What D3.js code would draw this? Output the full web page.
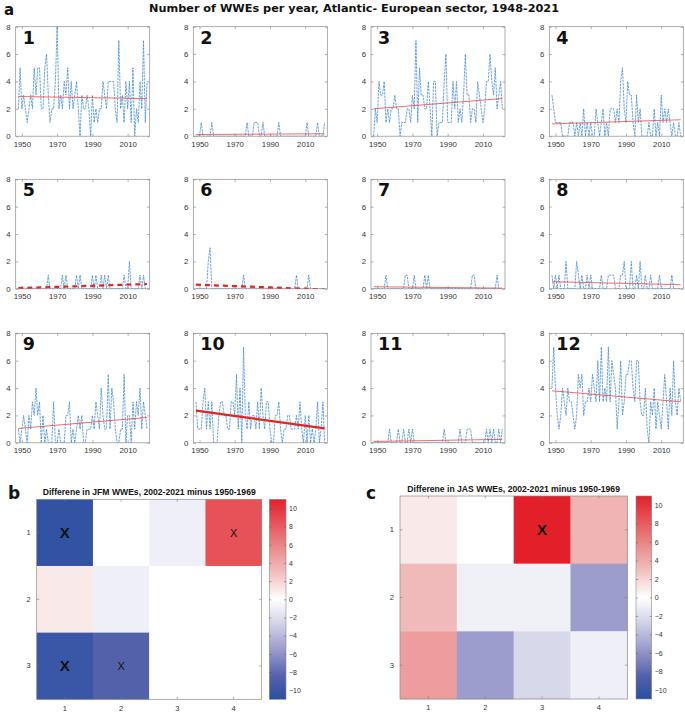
<!DOCTYPE html>
<html><head><meta charset="utf-8">
<script src="https://cdn.jsdelivr.net/npm/d3@7"></script>
<style>body{margin:0;background:#fff}svg{display:block}</style>
</head><body><svg id="c" width="685" height="713"></svg>
<script>
// ---------------- DATA ----------------
const years = d3.range(1948, 2022);
const s1 = [2,5,2,3,2,1,2,3,2,5, 3,5,5,2,2,5,6,3,1,2, 2,4,8,2,3,2,4,3,5,2, 4,2,3,4,2,0,3,2,2,3, 2,0,3,1,2,1,2,2,4,3, 2,4,4,4,4,2,1,7,2,3, 1,4,2,4,1,5,0,2,1,4, 2,7,1,4];
const s2 = [0,0,0,1,0,0,0,0,0,1, 0,0,0,0,0,0,0,0,0,0, 0,0,0,0,0,0,0,0,0,1, 0,0,0,1,1,1,0,0,1,0, 0,0,0,0,0,0,0,1,0,0, 0,0,0,0,0,0,0,0,0,0, 0,0,0,1,0,0,0,0,0,1, 0,0,0,1];
const s3 = [0,2,1,4,3,3,4,1,2,1, 2,2,3,2,2,0,1,1,1,2, 2,1,3,2,7,1,5,3,3,2, 2,4,2,0,4,4,0,1,1,1, 4,6,1,1,1,4,2,4,1,2, 1,3,6,3,3,1,2,2,1,4, 3,2,1,2,4,4,6,4,3,5, 2,3,4,2];
const s4 = [3,2,1,1,1,1,0,0,0,0, 1,1,1,0,1,0,1,0,2,0, 1,0,1,0,0,2,1,0,1,2, 0,1,0,2,2,2,1,2,1,4, 5,2,1,4,3,3,1,0,3,1, 2,0,0,0,0,1,0,0,2,0, 1,0,3,1,2,1,2,1,0,1, 0,0,1,0];
const s5 = [0,0,0,0,0,0,0,0,0,0, 0,0,0,0,0,0,0,1,0,0, 0,0,0,0,0,1,0,1,0,0, 0,0,0,1,0,1,0,0,0,0, 0,0,1,0,1,0,0,1,0,1, 0,1,0,0,0,0,0,0,0,0, 1,0,0,2,0,0,0,0,0,1, 0,1,0,0];
const s6 = [0,0,0,0,0,0,0,2,3,0, 0,0,0,0,0,0,0,0,0,0, 0,0,0,0,0,0,0,1,0,0, 0,0,0,0,0,0,0,0,0,0, 0,0,0,0,0,0,0,0,0,0, 0,0,0,0,0,0,0,1,0,0, 0,0,0,0,1,0,0,0,0,0, 0,0,0,0];
const s7 = [0,0,0,0,0,0,0,1,0,0, 0,0,0,0,0,0,0,0,1,1, 0,0,0,1,0,0,0,0,0,1, 0,1,0,0,0,0,0,0,0,0, 0,0,0,0,0,0,0,0,0,0, 0,0,0,0,0,0,1,1,0,0, 0,0,0,0,0,0,0,0,0,0, 1,0,0,0];
const s8 = [1,0,1,0,1,0,0,0,2,0, 0,0,0,0,2,1,0,1,0,0, 1,0,1,0,0,0,0,0,1,0, 0,0,1,1,1,1,0,0,0,1, 1,2,0,0,0,2,0,0,1,0, 2,0,0,1,0,0,1,0,0,0, 0,1,0,0,0,0,0,0,1,0, 0,0,0,0];
const s9 = [1,0,1,2,1,0,2,1,3,2, 4,2,3,0,2,0,1,0,0,0, 3,0,0,1,0,0,0,2,2,3, 0,1,0,1,2,1,2,0,0,1, 1,1,2,1,3,2,1,4,2,1, 1,5,1,4,3,1,0,0,1,1, 5,0,2,2,0,3,1,3,2,4, 1,3,2,1];
const s10 = [3,1,1,1,3,4,1,3,1,3, 0,0,0,2,3,3,2,2,1,1, 3,3,2,5,1,4,0,7,2,1, 3,1,2,2,1,3,1,4,2,1, 3,3,1,0,0,2,2,3,1,0, 1,1,2,2,1,1,1,2,1,3, 1,0,2,0,2,0,1,0,1,3, 0,1,3,0];
const s11 = [0,0,0,0,0,0,0,0,0,1, 0,0,0,0,1,0,0,1,0,0, 1,0,1,0,0,0,0,0,0,0, 0,0,0,0,0,0,0,0,0,0, 1,0,0,0,0,0,0,0,0,1, 0,0,0,1,1,1,0,0,0,0, 0,0,0,0,1,0,1,0,1,0, 0,1,0,1];
const s12 = [4,7,4,2,1,2,4,3,2,4, 3,3,2,1,2,5,4,5,2,3, 3,4,3,5,4,3,6,3,7,3, 4,3,7,3,6,5,4,1,3,6, 2,3,5,5,6,6,4,3,6,6, 3,2,2,4,1,0,3,2,4,1, 3,2,1,3,5,3,1,4,2,6, 3,2,4,3];
const seriesList = [s1,s2,s3,s4,s5,s6,s7,s8,s9,s10,s11,s12];
const panelNames = ["1","2","3","4","5","6","7","8","9","10","11","12"];
// trend line values (start 1948, end 2021)
const trendStart = [2.9, 0.12, 2.0, 0.9, 0.05, 0.3, 0.15, 0.52, 1.05, 2.35, 0.1, 3.8];
const trendEnd   = [2.75, 0.18, 2.75, 1.2, 0.35, -0.05, 0.05, 0.3, 1.85, 1.05, 0.25, 3.0];
const yTickVals = [0, 2, 4, 6, 8];
const xTickVals = [1950, 1970, 1990, 2010];

const hmRows = ["1", "2", "3"];
const hmCols = ["1", "2", "3", "4"];
const jfmValues = [[-10.5, 0, -1, 8.5], [1, -1, 0, 0], [-10, -8.5, 0, 0]];
const jfmMarks  = [["X", "", "", "x"], ["", "", "", ""], ["X", "x", "", ""]];
const jasValues = [[1, 0, 11, 3.5], [3.2, -0.9, -0.9, -5.5], [4.7, -5.5, -2.4, -1]];
const jasMarks  = [["", "", "X", ""], ["", "", "", ""], ["", "", "", ""]];
const cbTicks = [-10, -8, -6, -4, -2, 0, 2, 4, 6, 8, 10];

// ---------------- STYLE / LAYOUT ----------------
const svg = d3.select("#c");
const FONT = "'Liberation Sans', Arial, sans-serif";
const colLeft = [15.7, 193.3, 371, 549.3];
const rowTop = [26.7, 179.3, 333.3];
const PW = 134, PH = 109.5;
const trendKind = ["thin","thin","thin","thin","dash","dash","thin","thin","thin","solid","thin","thin"];

svg.append("text").attr("x", 4).attr("y", 15).attr("font-family", "'DejaVu Sans', sans-serif")
  .attr("font-weight", "bold").attr("font-size", 15).attr("fill", "#111").text("a");
svg.append("text").attr("x", 354).attr("y", 12).attr("text-anchor", "middle")
  .attr("font-family", "'DejaVu Sans', sans-serif").attr("font-weight", "bold").attr("font-size", 10.5)
  .attr("textLength", 410).attr("lengthAdjust", "spacingAndGlyphs")
  .attr("fill", "#111").text("Number of WWEs per year, Atlantic- European sector, 1948-2021");

const x = d3.scaleLinear().domain([1946.5, 2022.5]).range([0, PW]);
const y = d3.scaleLinear().domain([0, 8]).range([PH, 0]);

seriesList.forEach((vals, i) => {
  const r = Math.floor(i / 4), c = i % 4;
  const g = svg.append("g").attr("transform", `translate(${colLeft[c]},${rowTop[r]})`);
  const cid = "clip" + i;
  g.append("clipPath").attr("id", cid).append("rect").attr("width", PW).attr("height", PH);
  const ax = g.append("g").attr("transform", `translate(0,${PH})`)
    .call(d3.axisBottom(x).tickValues(xTickVals).tickFormat(d3.format("d")).tickSizeInner(-2.5).tickSizeOuter(0).tickPadding(5));
  const ay = g.append("g").call(d3.axisLeft(y).tickValues(yTickVals).tickSizeInner(-2.5).tickSizeOuter(0).tickPadding(5));
  const at = g.append("g").call(d3.axisTop(x).tickValues(xTickVals).tickFormat("").tickSizeInner(-2.5).tickSizeOuter(0));
  const ar = g.append("g").attr("transform", `translate(${PW},0)`).call(d3.axisRight(y).tickValues(yTickVals).tickFormat("").tickSizeInner(-2.5).tickSizeOuter(0));
  [ax, ay, at, ar].forEach(a => {
    a.select(".domain").remove();
    a.selectAll("line").attr("stroke", "#777").attr("stroke-width", 0.6);
    a.selectAll("text").attr("font-family", FONT).attr("font-size", 7.8).attr("fill", "#333");
  });
  g.append("rect").attr("width", PW).attr("height", PH).attr("fill", "none").attr("stroke", "#8a8a8a").attr("stroke-width", 0.7);
  const line = d3.line().x((d, j) => x(years[j])).y(d => y(d));
  g.append("path").datum(vals).attr("clip-path", `url(#${cid})`).attr("d", line)
    .attr("fill", "none").attr("stroke", "#3a86cc").attr("stroke-width", 0.75).attr("stroke-dasharray", "2.5,0.9");
  const tl = g.append("line").attr("clip-path", `url(#${cid})`)
    .attr("x1", x(years[0])).attr("x2", x(years[years.length - 1]))
    .attr("y1", y(trendStart[i])).attr("y2", y(trendEnd[i]));
  if (trendKind[i] === "thin") tl.attr("stroke", "#f04030").attr("stroke-width", 0.9).attr("stroke-opacity", 0.85);
  else if (trendKind[i] === "dash") tl.attr("stroke", "#e8221c").attr("stroke-width", 2.2).attr("stroke-dasharray", "5,4");
  else tl.attr("stroke", "#e8221c").attr("stroke-width", 2.2);
  g.append("text").attr("x", 7).attr("y", 17).attr("font-family", "'DejaVu Sans', sans-serif")
    .attr("font-weight", "bold").attr("font-size", 17.5).attr("fill", "#111").text(panelNames[i]);
});

// ---------------- HEATMAPS ----------------
const color = d3.scaleLinear()
  .domain([-11, -8.5, -5.5, -2.5, 0, 3, 6, 11])
  .range(["#2a4ea2", "#5361ab", "#9c9ccd", "#d6d6ea", "#ffffff", "#f1bebe", "#ea8484", "#e3202a"]).clamp(true);

function heatmap(cfg) {
  const g = svg.append("g");
  const hx = d3.scaleBand().domain(hmCols).range([cfg.x0, cfg.x1]);
  const hy = d3.scaleBand().domain(hmRows).range([cfg.y0, cfg.y1]);
  cfg.values.forEach((row, ri) => row.forEach((v, ci) => {
    g.append("rect").attr("x", hx(hmCols[ci])).attr("y", hy(hmRows[ri]))
      .attr("width", hx.bandwidth() + 0.3).attr("height", hy.bandwidth() + 0.3).attr("fill", color(v));
    const m = cfg.marks[ri][ci];
    if (m) {
      g.append("text").attr("x", hx(hmCols[ci]) + hx.bandwidth() / 2).attr("y", hy(hmRows[ri]) + hy.bandwidth() / 2)
        .attr("text-anchor", "middle").attr("dominant-baseline", "central")
        .attr("font-family", FONT).attr("font-weight", m === "X" ? "bold" : "normal")
        .attr("font-size", m === "X" ? 15 : 11).attr("fill", "#111").text("X");
    }
  }));
  const ab = g.append("g").attr("transform", `translate(0,${cfg.y1})`).call(d3.axisBottom(hx).tickSizeInner(-2.5).tickSizeOuter(0).tickPadding(6));
  const al = g.append("g").attr("transform", `translate(${cfg.x0},0)`).call(d3.axisLeft(hy).tickSizeInner(-2.5).tickSizeOuter(0).tickPadding(6));
  const at = g.append("g").attr("transform", `translate(0,${cfg.y0})`).call(d3.axisTop(hx).tickFormat("").tickSizeInner(-2.5).tickSizeOuter(0));
  const ar = g.append("g").attr("transform", `translate(${cfg.x1},0)`).call(d3.axisRight(hy).tickFormat("").tickSizeInner(-2.5).tickSizeOuter(0));
  [ab, al, at, ar].forEach(a => {
    a.select(".domain").remove();
    a.selectAll("line").attr("stroke", "#777").attr("stroke-width", 0.6);
    a.selectAll("text").attr("font-family", FONT).attr("font-size", 7.5).attr("fill", "#333");
  });
  g.append("rect").attr("x", cfg.x0).attr("y", cfg.y0).attr("width", cfg.x1 - cfg.x0).attr("height", cfg.y1 - cfg.y0)
    .attr("fill", "none").attr("stroke", "#8a8a8a").attr("stroke-width", 0.7);
  const cy = d3.scaleLinear().domain([-11, 11]).range([cfg.y1, cfg.y0]);
  const gid = "grad" + cfg.id;
  const grad = svg.append("defs").append("linearGradient").attr("id", gid)
    .attr("x1", 0).attr("y1", 1).attr("x2", 0).attr("y2", 0);
  d3.range(-11, 11.01, 0.5).forEach(v => grad.append("stop").attr("offset", (v + 11) / 22).attr("stop-color", color(v)));
  g.append("rect").attr("x", cfg.cbx).attr("y", cfg.y0).attr("width", cfg.cbw).attr("height", cfg.y1 - cfg.y0)
    .attr("fill", `url(#${gid})`).attr("stroke", "#8a8a8a").attr("stroke-width", 0.6);
  const acb = g.append("g").attr("transform", `translate(${cfg.cbx + cfg.cbw},0)`)
    .call(d3.axisRight(cy).tickValues(cbTicks).tickSizeInner(-2).tickSizeOuter(0).tickPadding(3));
  const acl = g.append("g").attr("transform", `translate(${cfg.cbx},0)`)
    .call(d3.axisLeft(cy).tickValues(cbTicks).tickFormat("").tickSizeInner(-2).tickSizeOuter(0));
  [acb, acl].forEach(a => {
    a.select(".domain").remove();
    a.selectAll("line").attr("stroke", "#555").attr("stroke-width", 0.5);
    a.selectAll("text").attr("font-family", FONT).attr("font-size", 7).attr("fill", "#333");
  });
  g.append("text").attr("x", (cfg.x0 + cfg.x1) / 2).attr("y", cfg.y0 - 4).attr("text-anchor", "middle")
    .attr("font-family", FONT).attr("font-weight", "bold").attr("font-size", 8.6).attr("fill", "#111").text(cfg.title);
  g.append("text").attr("x", cfg.lx).attr("y", cfg.ly).attr("font-family", "'DejaVu Sans', sans-serif")
    .attr("font-weight", "bold").attr("font-size", 17).attr("fill", "#111").text(cfg.letter);
}

heatmap({id: "b", x0: 36.7, x1: 261.7, y0: 499.3, y1: 699.3, cbx: 269.3, cbw: 16.7,
  values: jfmValues, marks: jfmMarks, title: "Differene in JFM WWEs, 2002-2021 minus 1950-1969",
  letter: "b", lx: 8, ly: 499});
heatmap({id: "c", x0: 400, x1: 627.3, y0: 496, y1: 699, cbx: 636, cbw: 15.7,
  values: jasValues, marks: jasMarks, title: "Differene in JAS WWEs, 2002-2021 minus 1950-1969",
  letter: "c", lx: 366, ly: 499});
</script></body></html>
